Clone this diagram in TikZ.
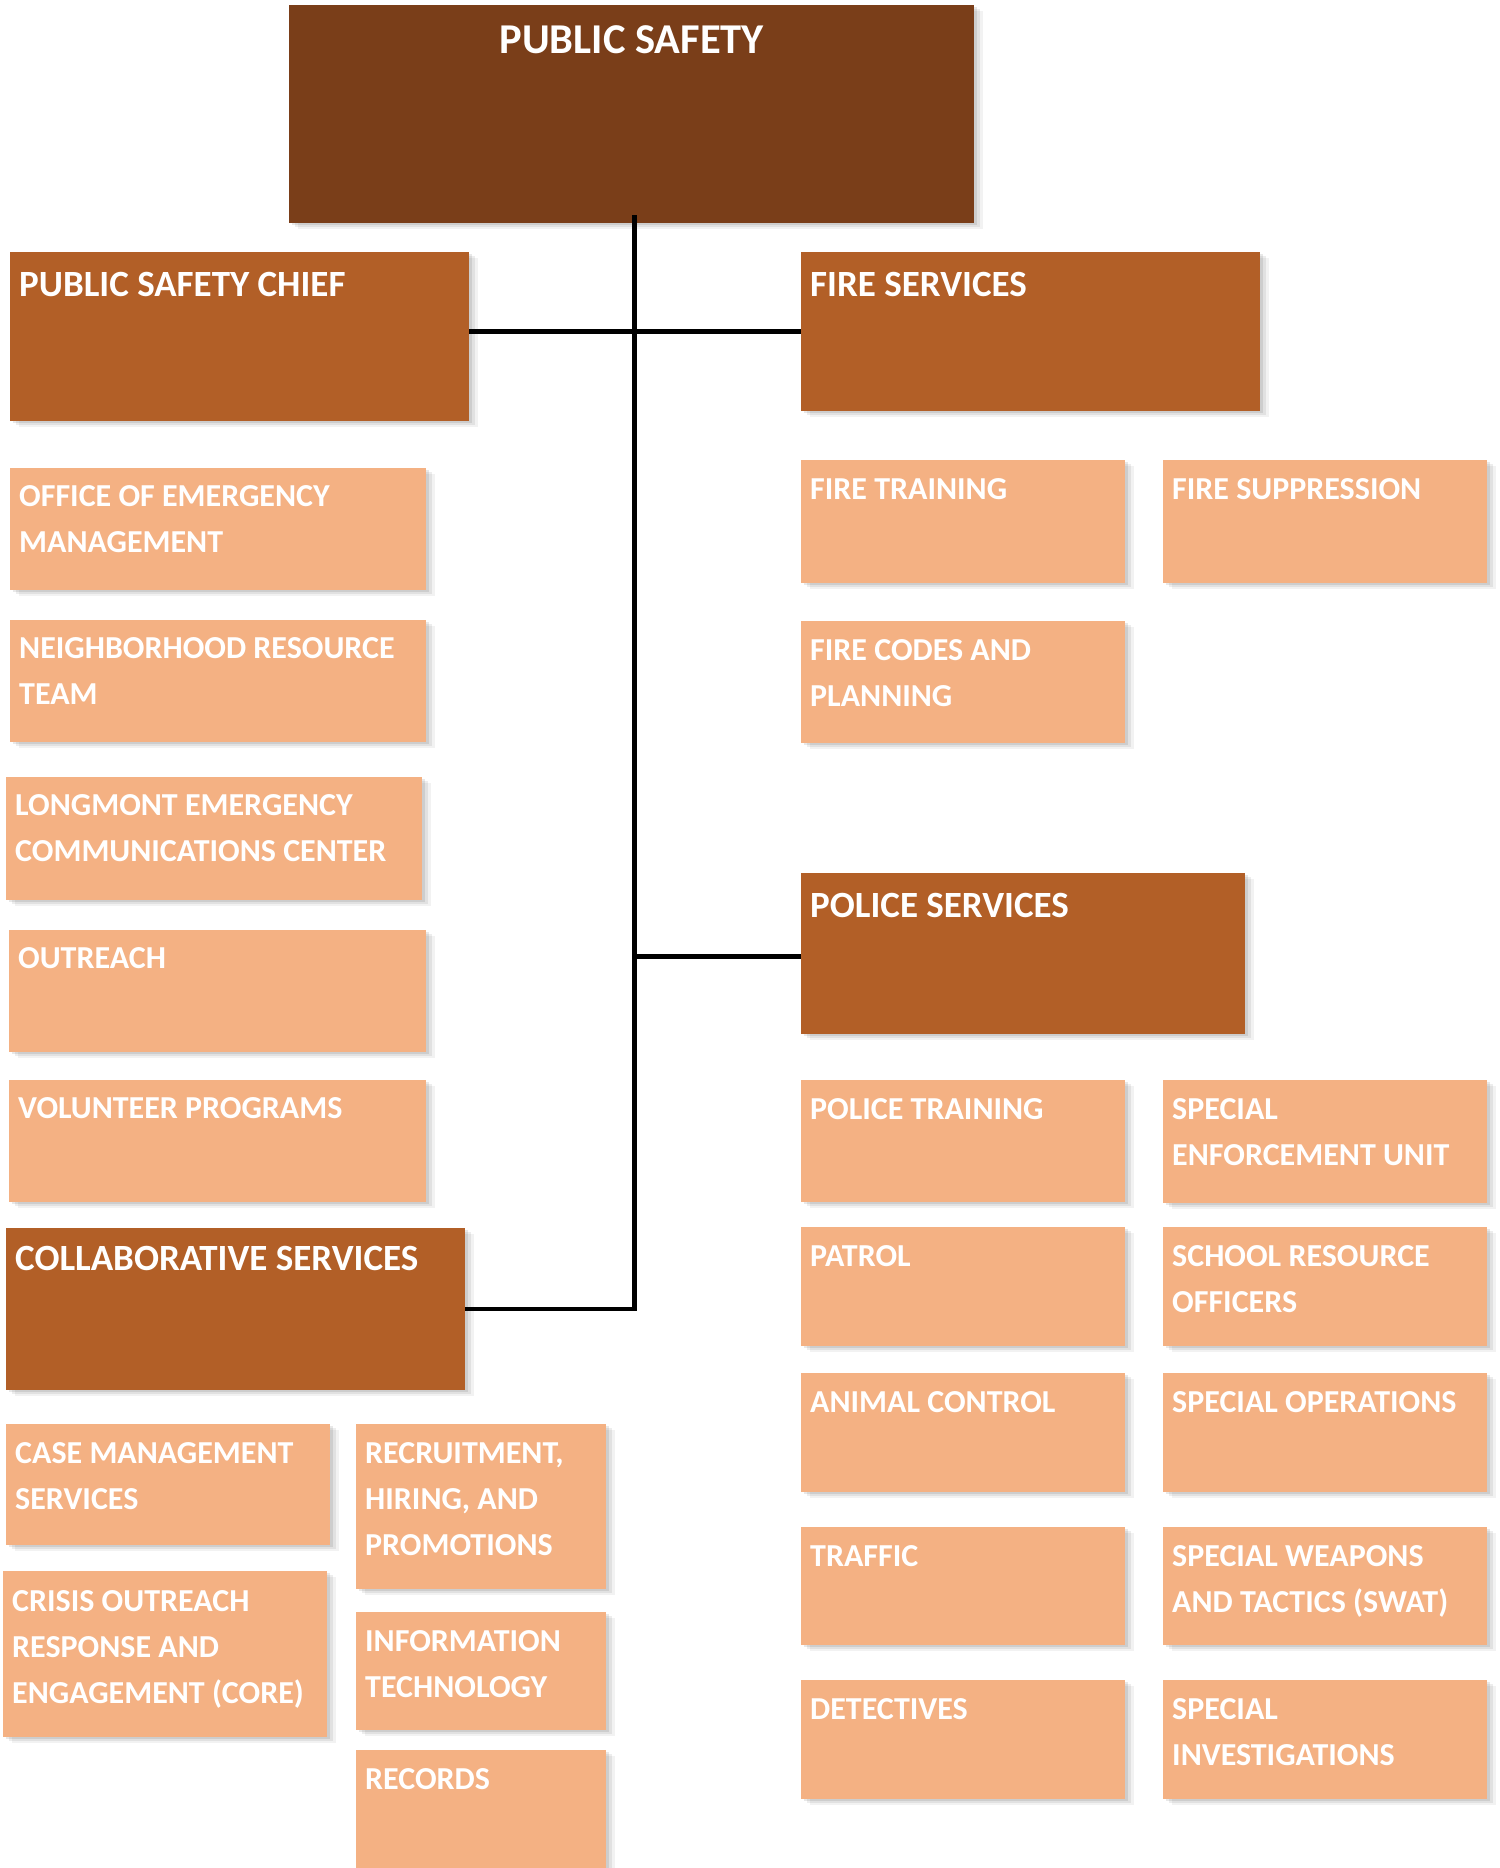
\documentclass[tikz,border=0pt]{standalone}
\usepackage{fontspec}
\setmainfont{Carlito}
\usetikzlibrary{shadows}

\definecolor{topbrown}{HTML}{7A3E19}
\definecolor{midbrown}{HTML}{B25F27}
\definecolor{peach}{HTML}{F4B183}

\tikzset{
  card/.style={rectangle, draw=none, inner sep=0pt, anchor=north west,
    general shadow={fill=black, opacity=0.05, shadow xshift=9pt, shadow yshift=-6pt},
    general shadow={fill=black, opacity=0.07, shadow xshift=6pt, shadow yshift=-4pt},
    general shadow={fill=black, opacity=0.09, shadow xshift=3pt, shadow yshift=-2pt}},
  topcard/.style={card, fill=topbrown},
  headcard/.style={card, fill=midbrown},
  unitcard/.style={card, fill=peach},
  unittext/.style={text=white, inner sep=0pt, anchor=base west,
    font=\bfseries\fontsize{32}{46}\selectfont},
  headtext/.style={unittext, font=\bfseries\fontsize{37}{46}\selectfont},
  titletext/.style={unittext, anchor=base, font=\bfseries\fontsize{42.5}{50}\selectfont},
  link/.style={draw=black, line width=4.5pt}
}

% card style, text style, name, x, y, width, height, baseline drop, text
% (lines of the text are separated by \\; the first line sits on the anchor)
\newcommand\orgcard[9]{%
  \node[#1, minimum width=#6pt, minimum height=#7pt] (#3) at (#4pt,-#5pt) {};
  \node[#2] (#3-text) at ([shift={(9pt,-#8pt)}]#3.north west)
    {\begin{tabular}[t]{@{}l@{}}#9\end{tabular}};
}

\begin{document}
\begin{tikzpicture}
\useasboundingbox (0,0) rectangle (1499pt,-1868pt);

% top level
\node[topcard, minimum width=685pt, minimum height=218pt] (ps) at (289pt,-5pt) {};
\node[titletext] (ps-text) at ([yshift=-48pt]ps.north) {PUBLIC SAFETY};

% divisions
\orgcard{headcard}{headtext}{chief}{10}{252}{459}{169}{44}{PUBLIC SAFETY CHIEF}
\orgcard{headcard}{headtext}{fire}{801}{252}{459}{159}{44}{FIRE SERVICES}
\orgcard{headcard}{headtext}{police}{801}{873}{444}{161}{44}{POLICE SERVICES}
\orgcard{headcard}{headtext}{collab}{6}{1228}{459}{162}{42}{COLLABORATIVE SERVICES}

% units under the chief
\orgcard{unitcard}{unittext}{oem}{10}{468}{416}{122}{38}{OFFICE OF EMERGENCY\\MANAGEMENT}
\orgcard{unitcard}{unittext}{nrt}{10}{620}{416}{122}{38}{NEIGHBORHOOD RESOURCE\\TEAM}
\orgcard{unitcard}{unittext}{lecc}{6}{777}{416}{123}{38}{LONGMONT EMERGENCY\\COMMUNICATIONS CENTER}
\orgcard{unitcard}{unittext}{outreach}{9}{930}{417}{122}{38}{OUTREACH}
\orgcard{unitcard}{unittext}{volunteer}{9}{1080}{417}{122}{38}{VOLUNTEER PROGRAMS}

% collaborative services units
\orgcard{unitcard}{unittext}{case}{6}{1424}{324}{121}{39}{CASE MANAGEMENT\\SERVICES}
\orgcard{unitcard}{unittext}{core}{3}{1571}{324}{166}{40}{CRISIS OUTREACH\\RESPONSE AND\\ENGAGEMENT (CORE)}
\orgcard{unitcard}{unittext}{recruit}{356}{1424}{250}{165}{39}{RECRUITMENT,\\HIRING, AND\\PROMOTIONS}
\orgcard{unitcard}{unittext}{it}{356}{1612}{250}{118}{39}{INFORMATION\\TECHNOLOGY}
\orgcard{unitcard}{unittext}{records}{356}{1750}{250}{130}{39}{RECORDS}

% fire units
\orgcard{unitcard}{unittext}{ftrain}{801}{460}{324}{123}{39}{FIRE TRAINING}
\orgcard{unitcard}{unittext}{fsupp}{1163}{460}{324}{123}{39}{FIRE SUPPRESSION}
\orgcard{unitcard}{unittext}{fcodes}{801}{621}{324}{122}{39}{FIRE CODES AND\\PLANNING}

% police units
\orgcard{unitcard}{unittext}{ptrain}{801}{1080}{324}{122}{39}{POLICE TRAINING}
\orgcard{unitcard}{unittext}{seu}{1163}{1080}{324}{123}{39}{SPECIAL\\ENFORCEMENT UNIT}
\orgcard{unitcard}{unittext}{patrol}{801}{1227}{324}{119}{39}{PATROL}
\orgcard{unitcard}{unittext}{sro}{1163}{1227}{324}{119}{39}{SCHOOL RESOURCE\\OFFICERS}
\orgcard{unitcard}{unittext}{animal}{801}{1373}{324}{119}{39}{ANIMAL CONTROL}
\orgcard{unitcard}{unittext}{specops}{1163}{1373}{324}{119}{39}{SPECIAL OPERATIONS}
\orgcard{unitcard}{unittext}{traffic}{801}{1527}{324}{118}{39}{TRAFFIC}
\orgcard{unitcard}{unittext}{swat}{1163}{1527}{324}{118}{39}{SPECIAL WEAPONS\\AND TACTICS (SWAT)}
\orgcard{unitcard}{unittext}{detect}{801}{1680}{324}{119}{39}{DETECTIVES}
\orgcard{unitcard}{unittext}{specinv}{1163}{1680}{324}{119}{39}{SPECIAL\\INVESTIGATIONS}

% connectors
\coordinate (trunk) at ([xshift=3pt, yshift=8pt]ps.south);
\draw[link] (trunk) -- (trunk |- collab.east) -- (collab.east);
\draw[link] (chief.east |- fire.west) -- (fire.west);
\draw[link] (trunk |- police.west) ++(0,-3pt) -- ([yshift=-3pt]police.west);
\end{tikzpicture}
\end{document}
